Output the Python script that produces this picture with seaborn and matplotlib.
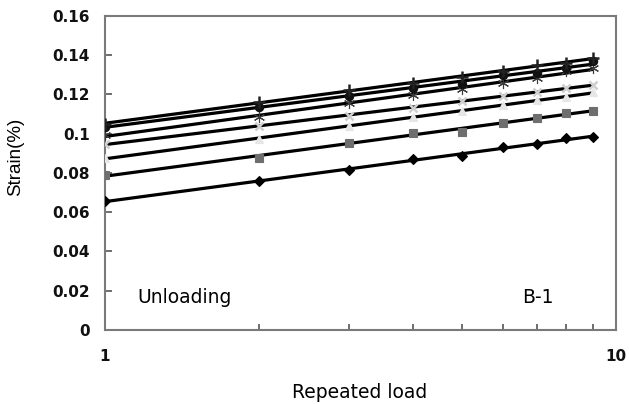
import numpy as np
import pandas as pd
import matplotlib
matplotlib.use("Agg")
import matplotlib.pyplot as plt
import seaborn as sns
from matplotlib.ticker import FixedLocator, NullFormatter

# ---- data ----
loads = [1, 2, 3, 4, 5, 6, 7, 8, 9]
s_diamond  = [0.0657, 0.0758, 0.0815, 0.0871, 0.0888, 0.0931, 0.0946, 0.0977, 0.0985]
s_square   = [0.0790, 0.0878, 0.0951, 0.1006, 0.1011, 0.1057, 0.1079, 0.1104, 0.1118]
s_triangle = [0.0875, 0.0975, 0.1040, 0.1085, 0.1115, 0.1145, 0.1170, 0.1185, 0.1215]
s_x        = [0.0950, 0.1040, 0.1090, 0.1130, 0.1165, 0.1190, 0.1215, 0.1235, 0.1250]
s_star     = [0.0994, 0.1087, 0.1159, 0.1197, 0.1230, 0.1260, 0.1282, 0.1320, 0.1335]
s_circle   = [0.1036, 0.1138, 0.1190, 0.1235, 0.1255, 0.1300, 0.1310, 0.1335, 0.1370]
s_plus     = [0.1050, 0.1160, 0.1225, 0.1260, 0.1290, 0.1320, 0.1350, 0.1360, 0.1385]

series_values = [s_diamond, s_square, s_triangle, s_x, s_star, s_circle, s_plus]
series_markers = ["D", "s", "^", "x", (6, 2, 0), "o", "+"]
series_colors = ["#000000", "#6e6e6e", "#e6e6e6", "#cfcfcf", "#3a3a3a", "#111111", "#222222"]
series_sizes = [5, 6, 6, 6, 8, 6, 8]

y_ticks = [0, 0.02, 0.04, 0.06, 0.08, 0.1, 0.12, 0.14, 0.16]
y_ticklabels = ["0", "0.02", "0.04", "0.06", "0.08", "0.1", "0.12", "0.14", "0.16"]
x_ticks = [1, 10]
x_ticklabels = ["1", "10"]

sns.set_theme(style="white")
plt.rcParams["font.family"] = ["DejaVu Sans"]
plt.rcParams["text.color"] = "black"
plt.rcParams["axes.labelcolor"] = "black"

fig = plt.figure(figsize=(6.29, 4.04), dpi=100)
ax = fig.add_axes([0.1669, 0.1832, 0.8124, 0.7772])

for vals, mk, col, ms in zip(series_values, series_markers, series_colors, series_sizes):
    df = pd.DataFrame({"load": loads, "strain": vals})
    sns.regplot(data=df, x="load", y="strain", logx=True, ci=None, scatter=False,
                line_kws=dict(color="black", lw=2.3, zorder=3), ax=ax)
    ax.plot(df["load"], df["strain"], linestyle="none", marker=mk, color=col,
            markersize=ms, markeredgewidth=1.8 if mk in ("x", "+") else 0.8,
            markeredgecolor=col, zorder=4)

ax.set_xscale("log")
ax.set_xlim(1, 10)
ax.set_ylim(0, 0.16)
ax.xaxis.set_major_locator(FixedLocator(x_ticks))
ax.set_xticklabels(x_ticklabels)
ax.xaxis.set_minor_locator(FixedLocator([2, 3, 4, 5, 6, 7, 8, 9]))
ax.xaxis.set_minor_formatter(NullFormatter())
ax.set_yticks(y_ticks)
ax.set_yticklabels(y_ticklabels)

ax.tick_params(axis="both", which="both", direction="in", colors="#555555",
               labelcolor="black", labelsize=11, bottom=True, left=True,
               top=False, right=False)
ax.tick_params(axis="x", which="major", length=5, width=1.2, pad=14)
ax.tick_params(axis="x", which="minor", length=4, width=1.2)
ax.tick_params(axis="y", which="major", length=5, width=1.2, pad=11)
ax.tick_params(axis="y", which="minor", left=False)
for lab in ax.get_xticklabels() + ax.get_yticklabels():
    lab.set_fontweight("bold")
    lab.set_color("#111111")

for sp in ax.spines.values():
    sp.set_visible(True)
    sp.set_color("#7a7a7a")
    sp.set_linewidth(1.5)

ax.set_xlabel("Repeated load", fontsize=13.5, color="black")
ax.xaxis.set_label_coords(0.499, -0.2)
ax.xaxis.label.set_va("center")
ax.set_ylabel("Strain(%)", fontsize=13.5, color="black",
              family=["Liberation Sans Narrow", "Liberation Sans"])
ax.yaxis.set_label_coords(-0.158, 0.551)

ax.text(0.064, 0.105, "Unloading", transform=ax.transAxes, fontsize=13.5,
        va="center", ha="left", color="black")
ax.text(0.816, 0.105, "B-1", transform=ax.transAxes, fontsize=13.5,
        va="center", ha="left", color="black")

fig.savefig("out.png", dpi=100)
